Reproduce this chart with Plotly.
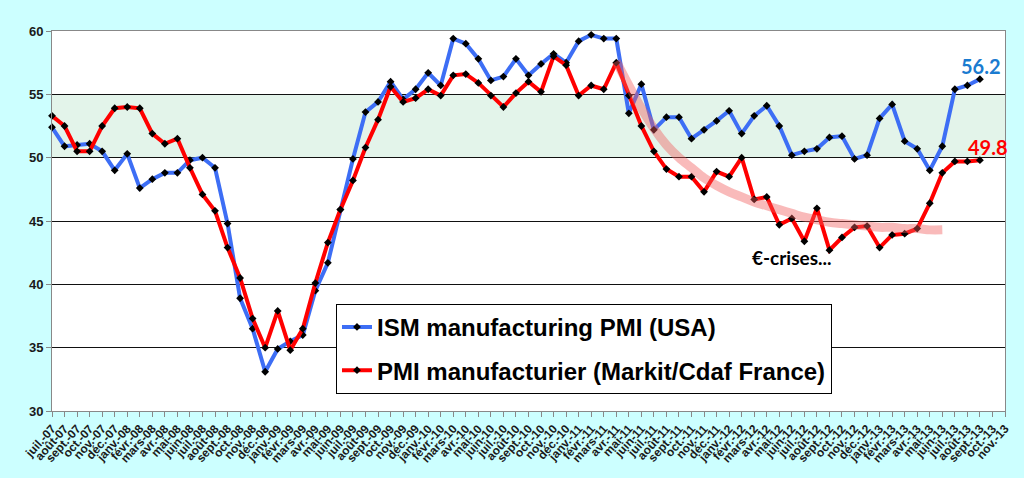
import plotly.graph_objs as go

# month labels as Excel writes them in French (juil.-07 ... nov.-13)
month_names = ['janv.', 'févr.', 'mars', 'avr.', 'mai', 'juin',
               'juil.', 'août', 'sept.', 'oct.', 'nov.', 'déc.']
months = []
for year in range(2007, 2014):
    for m in month_names:
        months.append(m + '-' + str(year)[2:])
months = months[6:6 + 77]

# ISM manufacturing PMI (USA), juil.-07 -> sept.-13
ism_usa = [52.4, 50.9, 51.0, 51.1, 50.5, 49.0, 50.3, 47.6, 48.3, 48.8,
           48.8, 49.8, 50.0, 49.2, 44.8, 38.9, 36.5, 33.1, 34.9, 35.5,
           36.0, 39.5, 41.7, 45.9, 49.9, 53.6, 54.4, 56.0, 54.6, 55.4,
           56.7, 55.7, 59.4, 59.0, 57.8, 56.1, 56.4, 57.8, 56.5, 57.4,
           58.2, 57.5, 59.2, 59.7, 59.4, 59.4, 53.5, 55.8, 52.2, 53.2,
           53.2, 51.5, 52.2, 52.9, 53.7, 51.9, 53.3, 54.1, 52.5, 50.2,
           50.5, 50.7, 51.6, 51.7, 49.9, 50.2, 53.1, 54.2, 51.3, 50.7,
           49.0, 50.9, 55.4, 55.7, 56.2]

# PMI manufacturier (Markit/Cdaf France), juil.-07 -> sept.-13
pmi_france = [53.3, 52.5, 50.5, 50.5, 52.5, 53.9, 54.0, 53.9, 51.9, 51.1,
              51.5, 49.2, 47.1, 45.8, 42.9, 40.5, 37.3, 35.0, 37.9, 34.8,
              36.5, 40.1, 43.3, 45.9, 48.2, 50.8, 53.0, 55.6, 54.4, 54.7,
              55.4, 54.9, 56.5, 56.6, 55.9, 54.9, 54.0, 55.1, 56.0, 55.2,
              58.0, 57.3, 54.9, 55.7, 55.4, 57.5, 54.9, 52.5, 50.5, 49.1,
              48.5, 48.5, 47.3, 48.9, 48.5, 50.0, 46.7, 46.9, 44.7, 45.2,
              43.4, 46.0, 42.7, 43.7, 44.5, 44.6, 42.9, 43.9, 44.0, 44.4,
              46.4, 48.8, 49.7, 49.7, 49.8]

# hand drawn "euro crisis" trend, mars-11 -> mai-13
trend_start = 45
trend = [57.6, 55.7, 53.9, 52.3, 51.0, 50.0, 49.2, 48.4, 47.8, 47.3,
         46.9, 46.5, 46.2, 45.9, 45.6, 45.3, 45.1, 44.9, 44.8, 44.7,
         44.6, 44.5, 44.5, 44.4, 44.4, 44.3, 44.3]

font_family = 'Liberation Sans, Arial, sans-serif'
label_family = 'Lato, Open Sans, sans-serif'

data = []
data.append(
    go.Scatter(
        x=months[:len(ism_usa)], y=ism_usa,
        name='ISM manufacturing PMI (USA)',
        mode='lines+markers',
        line=dict(color='#3D6EF5', width=4),
        marker=dict(symbol='diamond', size=6, color='black'),
        legendgroup='a',
        cliponaxis=False,
    )
)
data.append(
    go.Scatter(
        x=months[:len(pmi_france)], y=pmi_france,
        name='PMI manufacturier (Markit/Cdaf France)',
        mode='lines+markers',
        line=dict(color='#FF0000', width=4),
        marker=dict(symbol='diamond', size=6, color='black'),
        legendgroup='b',
        cliponaxis=False,
    )
)
data.append(
    go.Scatter(
        x=months[trend_start:trend_start + len(trend)], y=trend,
        mode='lines',
        line=dict(color='rgba(240,90,90,0.42)', width=9, shape='spline'),
        showlegend=False,
        hoverinfo='skip',
    )
)

layout = dict(
    width=1024, height=478,
    margin=dict(l=52, r=16, t=31, b=66),
    paper_bgcolor='#CCFFFF',
    plot_bgcolor='white',
    font=dict(family=font_family, color='#1a1a1a'),
    xaxis=dict(
        type='category',
        categoryorder='array', categoryarray=months,
        range=[0, 76],
        dtick=1,
        tickangle=-48,
        tickfont=dict(size=12, weight='bold', color='#1a1a1a'),
        ticks='outside', ticklen=5, tickcolor='#888',
        showgrid=False,
        showline=True, linecolor='#888', linewidth=1, mirror=True,
        zeroline=False,
    ),
    yaxis=dict(
        range=[30, 60],
        dtick=5,
        tickfont=dict(size=13, weight='bold', color='#1a1a1a'),
        ticks='outside', ticklen=5, tickcolor='#888',
        gridcolor='#111', gridwidth=1,
        showline=True, linecolor='#888', linewidth=1, mirror=True,
        zeroline=False,
    ),
    shapes=[dict(
        type='rect', xref='paper', yref='y',
        x0=0, x1=1, y0=50, y1=55,
        fillcolor='#E3F4EA', line=dict(width=0), layer='below',
    )],
    legend=dict(
        x=0.298, y=0.282, xanchor='left', yanchor='top',
        bgcolor='white', bordercolor='black', borderwidth=1,
        font=dict(size=24, weight='bold', color='black'),
        tracegroupgap=9,
        itemwidth=30,
    ),
    annotations=[
        dict(x='sept.-13', y=56.2, text='56.2', showarrow=False,
             xshift=1, yshift=13, font=dict(size=20, weight='bold', color='#1A7BD0',
                                            family=label_family)),
        dict(x='sept.-13', y=49.8, text='49.8', showarrow=False,
             xshift=8, yshift=13, font=dict(size=20, weight='bold', color='#FF0000',
                                            family=label_family)),
        dict(x='juin-12', y=42.1, text='€-crises...', showarrow=False,
             font=dict(size=19, weight='bold', color='black',
                       family=label_family)),
    ],
)

fig = go.Figure(data=data, layout=layout)
# page body has a default 8px margin, drop it so the figure fills the window
fig.write_html('out.html', config={'displayModeBar': False},
               post_script="document.body.style.margin='0px';")
